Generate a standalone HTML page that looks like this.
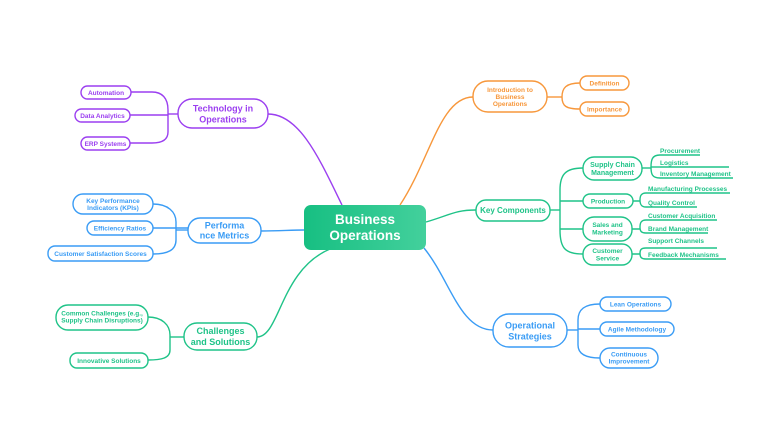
<!DOCTYPE html>
<html><head><meta charset="utf-8"><style>
html,body{margin:0;padding:0;background:#fff;}
svg{display:block;font-family:"Liberation Sans",sans-serif;}
</style></head><body>
<svg width="781" height="438" viewBox="0 0 781 438" xmlns="http://www.w3.org/2000/svg">
<defs><linearGradient id="g" x1="0" x2="1"><stop offset="0" stop-color="#17bf82"/><stop offset="1" stop-color="#43d09c"/></linearGradient></defs>
<g fill="none" stroke-width="1.4">
<!-- main connectors -->
<path d="M268 114 C300 114 320 160 342 205" stroke="#9b3ff0"/>
<path d="M400 205 C430 160 440 97 473 97" stroke="#f7973b"/>
<path d="M261 231 C280 231 290 230 304 230" stroke="#3a9cf5"/>
<path d="M330 249 C280 270 280 337 257 337" stroke="#1fc388"/>
<path d="M426 222 C450 215 455 210 476 210" stroke="#1fc388"/>
<path d="M424 248 C450 280 460 330 493 330" stroke="#3a9cf5"/>
<!-- orange branch -->
<g stroke="#f7973b"><path d="M547 97 H562"/><path d="M580 83 C566 83 562 88 562 97 C562 106 566 109 580 109"/></g>
<!-- key components branch -->
<g stroke="#1fc388">
<path d="M550 210 H560"/>
<path d="M583 168 C565 168 560 175 560 190 V230 C560 248 565 254 583 254"/>
<path d="M560 201 H583"/><path d="M560 229 H583"/>
<path d="M642 168 H651"/>
<path d="M660 155 C652 155 651 160 651 167 C651 174 652 178 660 178"/>
<path d="M651 167 H660"/>
<path d="M660 155 H700 M660 167 H729 M660 178 H733"/>
<path d="M633 201 H640 M646 193 C641 193 640 196 640 200 C640 204 641 207 646 207"/>
<path d="M646 193 H730 M646 207 H697"/>
<path d="M632 229 H640 M646 220 C641 220 640 223 640 227 C640 231 641 233 646 233"/>
<path d="M646 220 H717 M646 233 H708"/>
<path d="M632 254 H640 M646 248 C641 248 640 250 640 253 C640 257 641 259 646 259"/>
<path d="M646 248 H717 M646 259 H726"/>
</g>
<!-- operational -->
<g stroke="#3a9cf5"><path d="M567 330 H578"/><path d="M600 304 C584 304 578 310 578 320 V345 C578 353 584 358 600 358"/><path d="M578 329 H600"/></g>
<!-- technology -->
<g stroke="#9b3ff0"><path d="M178 114 H168"/><path d="M131 92 H152 C162 92 168 98 168 110 V132 C168 140 162 143 152 143 H130"/><path d="M130 115 H168"/></g>
<!-- performance -->
<g stroke="#3a9cf5"><path d="M188 230 H176"/><path d="M153 204 C168 204 176 212 176 222 V240 C176 250 168 254 153 254"/><path d="M153 228 H188"/></g>
<!-- challenges -->
<g stroke="#1fc388"><path d="M184 337 H170"/><path d="M148 317 C162 317 170 325 170 335 V350 C170 358 162 360 148 360"/></g>
</g>
<!-- central -->
<rect x="304" y="205" width="122" height="45" rx="7" fill="url(#g)"/>
<text x="365" y="224" fill="#fff" font-size="13.5" font-weight="bold" text-anchor="middle">Business</text>
<text x="365" y="240" fill="#fff" font-size="13.5" font-weight="bold" text-anchor="middle">Operations</text>
<g fill="#fff" stroke-width="1.4">
<rect x="473" y="81" width="74" height="31" rx="15" stroke="#f7973b"/>
<rect x="580" y="76" width="49" height="14" rx="7" stroke="#f7973b"/>
<rect x="580" y="102" width="49" height="14" rx="7" stroke="#f7973b"/>
<rect x="476" y="200" width="74" height="21" rx="10" stroke="#1fc388"/>
<rect x="583" y="157" width="59" height="23" rx="11" stroke="#1fc388"/>
<rect x="583" y="194" width="50" height="14" rx="7" stroke="#1fc388"/>
<rect x="583" y="217" width="49" height="24" rx="11" stroke="#1fc388"/>
<rect x="583" y="244" width="49" height="21" rx="10" stroke="#1fc388"/>
<rect x="493" y="314" width="74" height="33" rx="16" stroke="#3a9cf5"/>
<rect x="600" y="297" width="71" height="14" rx="7" stroke="#3a9cf5"/>
<rect x="600" y="322" width="74" height="14" rx="7" stroke="#3a9cf5"/>
<rect x="600" y="348" width="58" height="20" rx="10" stroke="#3a9cf5"/>
<rect x="178" y="99" width="90" height="29" rx="14" stroke="#9b3ff0"/>
<rect x="81" y="86" width="50" height="13" rx="6.5" stroke="#9b3ff0"/>
<rect x="75" y="109" width="55" height="13" rx="6.5" stroke="#9b3ff0"/>
<rect x="81" y="137" width="49" height="13" rx="6.5" stroke="#9b3ff0"/>
<rect x="188" y="218" width="73" height="25" rx="12" stroke="#3a9cf5"/>
<rect x="73" y="194" width="80" height="20" rx="10" stroke="#3a9cf5"/>
<rect x="87" y="221" width="66" height="14" rx="7" stroke="#3a9cf5"/>
<rect x="48" y="246" width="105" height="15" rx="7" stroke="#3a9cf5"/>
<rect x="184" y="323" width="73" height="27" rx="13" stroke="#1fc388"/>
<rect x="56" y="305" width="92" height="25" rx="12" stroke="#1fc388"/>
<rect x="70" y="353" width="78" height="15" rx="7" stroke="#1fc388"/>
</g>
<g font-size="6.5" text-anchor="middle" font-weight="bold">
<g fill="#f7973b"><text x="510" y="92">Introduction to</text><text x="510" y="99">Business</text><text x="510" y="106">Operations</text>
<text x="604.5" y="85.5">Definition</text><text x="604.5" y="111.5">Importance</text></g>
<g fill="#1fc388"><text x="513" y="213" font-size="8">Key Components</text>
<text x="612.5" y="167" font-size="7">Supply Chain</text><text x="612.5" y="175" font-size="7">Management</text>
<text x="608" y="203.5">Production</text>
<text x="607.5" y="227">Sales and</text><text x="607.5" y="234.5">Marketing</text>
<text x="607.5" y="253">Customer</text><text x="607.5" y="260.5">Service</text>
</g>
<g fill="#1fc388" text-anchor="start"><text x="660" y="153">Procurement</text><text x="660" y="165">Logistics</text><text x="660" y="176">Inventory Management</text>
<text x="648" y="191">Manufacturing Processes</text><text x="648" y="205">Quality Control</text>
<text x="648" y="218">Customer Acquisition</text><text x="648" y="231">Brand Management</text>
<text x="648" y="243">Support Channels</text><text x="648" y="257">Feedback Mechanisms</text></g>
<g fill="#3a9cf5"><text x="530" y="328.5" font-size="9">Operational</text><text x="530" y="339.5" font-size="9">Strategies</text>
<text x="635.5" y="306.5">Lean Operations</text><text x="637" y="331.5">Agile Methodology</text>
<text x="629" y="356.5">Continuous</text><text x="629" y="363.5">Improvement</text>
<text x="224.5" y="228.5" font-size="9">Performa</text><text x="224.5" y="238.5" font-size="9">nce Metrics</text>
<text x="113" y="203">Key Performance</text><text x="113" y="210">Indicators (KPIs)</text>
<text x="120" y="230.5">Efficiency Ratios</text><text x="100.5" y="256">Customer Satisfaction Scores</text></g>
<g fill="#9b3ff0"><text x="223" y="111.5" font-size="9">Technology in</text><text x="223" y="122.5" font-size="9">Operations</text>
<text x="106" y="95">Automation</text><text x="102.5" y="118">Data Analytics</text><text x="105.5" y="146">ERP Systems</text></g>
<g fill="#1fc388"><text x="220.5" y="334" font-size="9">Challenges</text><text x="220.5" y="345" font-size="9">and Solutions</text>
<text x="102" y="315.5">Common Challenges (e.g.,</text><text x="102" y="322.5">Supply Chain Disruptions)</text>
<text x="109" y="363">Innovative Solutions</text></g>
</g>
</svg>
</body></html>
